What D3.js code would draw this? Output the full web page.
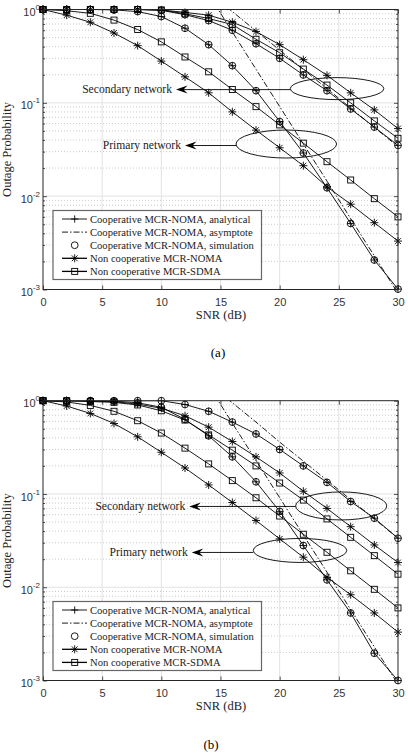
<!DOCTYPE html>
<html><head><meta charset="utf-8">
<script src="https://cdn.jsdelivr.net/npm/d3@7"></script>
<style>body{margin:0;background:#fff} svg{display:block}</style>
</head><body><svg id="c" width="408" height="754"></svg>
<script>
// ---------- data ----------
const snr = [0,2,4,6,8,10,12,14,16,18,20,22,24,26,28,30];
const asymSnr = [14,16,18,20,22,24,26,28,30];
const xTicks = [0,5,10,15,20,25,30];
const yTicks = [1e-3,1e-2,1e-1,1];
const yTickExp = ["-3","-2","-1","0"];
const legendLabels = [
  "Cooperative MCR-NOMA, analytical",
  "Cooperative MCR-NOMA, asymptote",
  "Cooperative MCR-NOMA, simulation",
  "Non cooperative MCR-NOMA",
  "Non cooperative MCR-SDMA"
];
const annotLabels = ["Secondary network","Primary network"];
const captions = ["(a)","(b)"];

// panel (a)
const aCoopP   = [1,1,1,0.99,0.95,0.84,0.63,0.42,0.25,0.135,0.063,0.029,0.0123,0.0051,0.00207,0.00101];
const aCoopS   = [1,1,1,1,1,0.98,0.88,0.76,0.60,0.43,0.30,0.199,0.135,0.086,0.055,0.035];
const aNomaP   = [1,0.87,0.73,0.56,0.41,0.28,0.19,0.128,0.080,0.051,0.033,0.0212,0.0126,0.0082,0.0052,0.0033];
const aNomaS   = [1,1,1,1,1,0.99,0.93,0.87,0.73,0.58,0.42,0.29,0.197,0.128,0.084,0.053];
const aSdmaP   = [1,0.97,0.91,0.77,0.61,0.45,0.31,0.215,0.139,0.091,0.058,0.037,0.0234,0.0149,0.0094,0.006];
const aSdmaS   = [1,1,1,1,1,0.99,0.90,0.80,0.69,0.48,0.344,0.23,0.155,0.10,0.064,0.0417];
const aAsymP   = [1.45,0.575,0.229,0.0912,0.0363,0.0145,0.00575,0.00229,0.000912];
const aAsymS   = [1.5,0.95,0.59,0.367,0.228,0.142,0.088,0.0545,0.034];

// panel (b)
const bCoopP   = [1,1,1,0.99,0.95,0.85,0.63,0.42,0.25,0.135,0.065,0.028,0.012,0.0053,0.00196,0.001];
const bCoopS   = [1,1,1,1,1,1,0.91,0.77,0.59,0.44,0.30,0.20,0.133,0.083,0.055,0.0335];
const bNomaP   = [1,0.877,0.73,0.57,0.41,0.28,0.19,0.125,0.081,0.052,0.033,0.021,0.0128,0.0083,0.0053,0.0033];
const bNomaS   = [1,1,0.99,0.975,0.92,0.83,0.69,0.52,0.365,0.25,0.168,0.107,0.070,0.0446,0.0284,0.0184];
const bSdmaP   = [1,0.97,0.89,0.77,0.61,0.45,0.31,0.21,0.139,0.091,0.058,0.037,0.0237,0.015,0.0095,0.006];
const bSdmaS   = [1,1,0.98,0.96,0.90,0.78,0.62,0.43,0.295,0.20,0.131,0.086,0.054,0.0343,0.0218,0.0138];
const bAsymP   = [1.45,0.575,0.229,0.0912,0.0363,0.0145,0.00575,0.00229,0.000912];
const bAsymS   = [1.5,0.95,0.59,0.36,0.225,0.14,0.087,0.054,0.0335];

// ---------- drawing ----------
const svg = d3.select("#c");
const L = 43, R = 398;
const SERIF = "'Liberation Serif','Times New Roman',serif";
const SANS = "'Liberation Sans',Arial,sans-serif";

function marker(g, type, cx, cy) {
  if (type === "plus") {
    g.append("path").attr("d", `M${cx-3.6},${cy}h7.2M${cx},${cy-3.6}v7.2`)
      .attr("stroke","#000").attr("stroke-width",0.9).attr("fill","none");
  } else if (type === "circle") {
    g.append("circle").attr("cx",cx).attr("cy",cy).attr("r",3.4)
      .attr("stroke","#000").attr("stroke-width",0.9).attr("fill","none");
  } else if (type === "star") {
    const h = 4, d = 2.9;
    g.append("path").attr("d",
      `M${cx-h},${cy}h${2*h}M${cx},${cy-h}v${2*h}M${cx-d},${cy-d}l${2*d},${2*d}M${cx-d},${cy+d}l${2*d},${-2*d}`)
      .attr("stroke","#000").attr("stroke-width",0.9).attr("fill","none");
  } else if (type === "square") {
    g.append("rect").attr("x",cx-3).attr("y",cy-3).attr("width",6).attr("height",6)
      .attr("stroke","#000").attr("stroke-width",0.9).attr("fill","none");
  }
}

function drawPanel(cfg, idx) {
  const top = cfg.top, bottom = cfg.bottom;
  const x = d3.scaleLinear().domain([0,30]).range([L,R]);
  const y = d3.scaleLog().domain([1e-3,1]).range([bottom,top]);
  const g = svg.append("g");

  // grid
  const grid = g.append("g");
  xTicks.slice(1,-1).forEach(t => grid.append("line")
    .attr("x1",x(t)).attr("x2",x(t)).attr("y1",top).attr("y2",bottom)
    .attr("stroke","#e2e2e2").attr("stroke-width",1));
  const minors = [];
  [1e-3,1e-2,1e-1].forEach(d => { for (let k=2;k<=9;k++) minors.push(k*d); });
  minors.forEach(v => grid.append("line")
    .attr("x1",L).attr("x2",R).attr("y1",y(v)).attr("y2",y(v))
    .attr("stroke","#bdbdbd").attr("stroke-width",0.8).attr("stroke-dasharray","1,2"));
  [1e-2,1e-1].forEach(v => grid.append("line")
    .attr("x1",L).attr("x2",R).attr("y1",y(v)).attr("y2",y(v))
    .attr("stroke","#e2e2e2").attr("stroke-width",1));

  // axes
  const ax = g.append("g").attr("font-family",SANS);
  const xb = ax.append("g").attr("transform",`translate(0,${bottom})`)
    .call(d3.axisBottom(x).tickValues(xTicks).tickSizeInner(-4).tickSizeOuter(0).tickPadding(9));
  xb.selectAll("text").attr("font-size",11).attr("fill","#333");
  ax.append("g").attr("transform",`translate(0,${top})`)
    .call(d3.axisTop(x).tickValues(xTicks).tickSizeInner(-4).tickSizeOuter(0).tickFormat(""));
  const yl = ax.append("g").attr("transform",`translate(${L},0)`)
    .call(d3.axisLeft(y).tickValues(yTicks).tickSizeInner(-4).tickSizeOuter(0).tickPadding(3));
  yl.selectAll("text").each(function(d,i){
    const t = d3.select(this).text("").attr("font-size",11).attr("fill","#333").attr("dy","0.55em");
    t.append("tspan").text("10");
    t.append("tspan").text(yTickExp[i]).attr("font-size",8).attr("dy","-0.75em");
  });
  ax.append("g").attr("transform",`translate(${L},0)`)
    .call(d3.axisLeft(y).tickValues(minors).tickSizeInner(-2).tickSizeOuter(0).tickFormat(""));
  ax.append("g").attr("transform",`translate(${R},0)`)
    .call(d3.axisRight(y).tickValues(yTicks).tickSizeInner(-4).tickSizeOuter(0).tickFormat(""));
  ax.append("g").attr("transform",`translate(${R},0)`)
    .call(d3.axisRight(y).tickValues(minors).tickSizeInner(-2).tickSizeOuter(0).tickFormat(""));
  ax.selectAll(".domain").remove();
  ax.selectAll(".tick line").attr("stroke","#262626").attr("stroke-width",0.8);

  // clip
  const cid = "clip"+idx;
  svg.append("clipPath").attr("id",cid).append("rect")
    .attr("x",L).attr("y",top).attr("width",R-L).attr("height",bottom-top);

  const line = d3.line().x(d=>x(d[0])).y(d=>y(d[1]));
  const lines = g.append("g").attr("clip-path",`url(#${cid})`);
  const mk = g.append("g");
  const s = cfg.series;
  const curves = [
    {v:s.coopP, m:["plus","circle"]},
    {v:s.coopS, m:["plus","circle"]},
    {v:s.nomaP, m:["star"]},
    {v:s.nomaS, m:["star"]},
    {v:s.sdmaP, m:["square"]},
    {v:s.sdmaS, m:["square"]}
  ];
  curves.forEach(c => {
    const pts = snr.map((t,i)=>[t,c.v[i]]);
    lines.append("path").attr("d",line(pts)).attr("fill","none")
      .attr("stroke","#000").attr("stroke-width",0.9);
    pts.forEach(p => c.m.forEach(m => marker(mk,m,x(p[0]),y(p[1]))));
  });
  [s.asymP, s.asymS].forEach(v => {
    const pts = asymSnr.map((t,i)=>[t,v[i]]);
    lines.append("path").attr("d",line(pts)).attr("fill","none")
      .attr("stroke","#000").attr("stroke-width",0.9).attr("stroke-dasharray","6,2,1.5,2");
  });

  // annotations: ellipses and arrows
  const an = g.append("g");
  cfg.annots.forEach((a,i) => {
    const cx = x(a.cx), cy = y(a.cy), rx = x(a.cx+a.rx)-x(a.cx);
    an.append("ellipse").attr("cx",cx).attr("cy",cy).attr("rx",rx).attr("ry",a.ry)
      .attr("fill","none").attr("stroke","#000").attr("stroke-width",0.9);
    const tx = x(a.tip);
    an.append("line").attr("x1",tx+6).attr("x2",cx-rx).attr("y1",cy+a.dy).attr("y2",cy+a.dy)
      .attr("stroke","#000").attr("stroke-width",0.9);
    const ty = cy + a.dy;
    an.append("path").attr("d",`M${tx},${ty}L${tx+11.5},${ty-4}L${tx+7.5},${ty}L${tx+11.5},${ty+4}Z`)
      .attr("fill","#000");
    an.append("text").attr("x",tx-4).attr("y",ty+3.8).attr("text-anchor","end")
      .attr("font-family",SERIF).attr("font-size",11.6).attr("fill","#222").text(annotLabels[i]);
  });

  // box
  g.append("rect").attr("x",L).attr("y",top).attr("width",R-L).attr("height",bottom-top)
    .attr("fill","none").attr("stroke","#262626").attr("stroke-width",1);

  // legend
  const lg = g.append("g");
  const lt = bottom - 79;
  lg.append("rect").attr("x",53).attr("y",lt).attr("width",208.5).attr("height",69)
    .attr("fill","#fff").attr("stroke","#666").attr("stroke-width",1.2);
  legendLabels.forEach((lab,i) => {
    const yy = lt + 8.5 + i*13.1;
    if (i !== 2) {
      lg.append("line").attr("x1",62).attr("x2",87).attr("y1",yy).attr("y2",yy)
        .attr("stroke","#000").attr("stroke-width", i>=3 ? 1.3 : 0.9)
        .attr("stroke-dasharray", i===1 ? "6,2,1.5,2" : null);
    }
    const mt = ["plus",null,"circle","star","square"][i];
    if (mt) marker(lg, mt, 74.7, yy);
    lg.append("text").attr("x",90).attr("y",yy+3.6).attr("font-family",SERIF)
      .attr("font-size",10.6).attr("fill","#222").text(lab);
  });

  // labels
  g.append("text").attr("x",221).attr("y",bottom+29.5).attr("text-anchor","middle")
    .attr("font-family",SERIF).attr("font-size",12.5).attr("fill","#222").text("SNR (dB)");
  g.append("text").attr("transform",`translate(10.5,${(top+bottom)/2}) rotate(-90)`)
    .attr("text-anchor","middle").attr("font-family",SERIF).attr("font-size",12.5)
    .attr("fill","#222").text("Outage Probability");
  g.append("text").attr("x",cfg.capX).attr("y",cfg.capY).attr("text-anchor","middle")
    .attr("font-family",SERIF).attr("font-size",13).attr("fill","#000").text(captions[idx]);
}

drawPanel({
  top: 9.5, bottom: 289.5, capX: 218, capY: 356.5,
  series: {coopP:aCoopP, coopS:aCoopS, nomaP:aNomaP, nomaS:aNomaS, sdmaP:aSdmaP, sdmaS:aSdmaS, asymP:aAsymP, asymS:aAsymS},
  annots: [
    {cx:24.85, cy:0.142, rx:3.95, ry:11, tip:11.24, dy:1},
    {cx:20.56, cy:0.0362, rx:4.25, ry:14, tip:12.0, dy:1.5}
  ]
}, 0);
drawPanel({
  top: 400.7, bottom: 680.5, capX: 211, capY: 749,
  series: {coopP:bCoopP, coopS:bCoopS, nomaP:bNomaP, nomaS:bNomaS, sdmaP:bSdmaP, sdmaS:bSdmaS, asymP:bAsymP, asymS:bAsymS},
  annots: [
    {cx:25.2, cy:0.0744, rx:3.85, ry:14, tip:12.36, dy:0.5},
    {cx:21.72, cy:0.0248, rx:3.95, ry:12, tip:12.57, dy:2}
  ]
}, 1);
</script></body></html>
